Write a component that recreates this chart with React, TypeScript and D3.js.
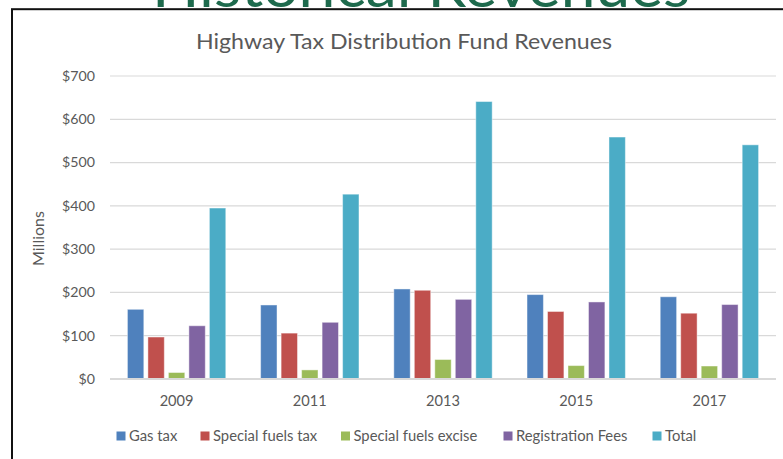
import React from "react";
import * as d3 from "d3";

const years = ["2009", "2011", "2013", "2015", "2017"];
const seriesNames = ["Gas tax", "Special fuels tax", "Special fuels excise", "Registration Fees", "Total"];
const gasTax = [161, 171, 208, 195, 190];
const specialFuelsTax = [97, 106, 205, 156, 152];
const specialFuelsExcise = [15, 21, 45, 31, 30];
const registrationFees = [123, 131, 184, 178, 172];
const total = [395, 427, 641, 559, 541];
const yTicks = [0, 100, 200, 300, 400, 500, 600, 700];

const seriesValues = [gasTax, specialFuelsTax, specialFuelsExcise, registrationFees, total];
const colors = ["#4F81BD", "#C0504D", "#9BBB59", "#8064A2", "#4BACC6"];
const legendX = [116.5, 200.5, 341, 503.5, 652.5];

const FONT = "Lato, 'Open Sans', sans-serif";

export default function App() {
  const W = 783, H = 459;
  const x0 = d3.scaleBand<string>().domain(years).range([110, 776]).padding(0);
  const x1 = d3.scaleBand<string>().domain(seriesNames).range([0, x0.bandwidth()]).paddingInner(0.2).paddingOuter(0.85);
  const y = d3.scaleLinear().domain([0, 700]).range([379, 76]);
  const fmt = (v: number) => "$" + d3.format(",")(v);

  return (
    <svg width={W} height={H} style={{ position: "absolute", left: 0, top: 0, background: "#fff" }} fontFamily={FONT}>
      <rect x={0} y={0} width={W} height={H} fill="#fff" />
      <text x={421} y={7} textAnchor="middle" fontSize={58} fill="#1E6A4D" textLength={538} lengthAdjust="spacingAndGlyphs">Historical Revenues</text>
      <rect x={12} y={9.2} width={900} height={600} fill="#fff" stroke="#111" strokeWidth={2} />
      <text x={404} y={48.5} textAnchor="middle" fontSize={20.5} fill="#595959" textLength={416} lengthAdjust="spacingAndGlyphs">Highway Tax Distribution Fund Revenues</text>
      {yTicks.map((t) => (
        <g key={t}>
          {t !== 0 && <line x1={110} x2={776} y1={y(t)} y2={y(t)} stroke="#D9D9D9" strokeWidth={1.2} />}
          <text x={95} y={y(t) + 4.8} textAnchor="end" fontSize={14.2} fill="#595959">{fmt(t)}</text>
        </g>
      ))}
      <text transform={`translate(43.5,238.5) rotate(-90)`} textAnchor="middle" fontSize={16} fill="#595959">Millions</text>
      {years.map((yr, i) => (
        <g key={yr} transform={`translate(${x0(yr)},0)`}>
          {seriesNames.map((s, j) => {
            const v = seriesValues[j][i];
            return (
              <rect key={s} x={x1(s)} y={y(v)} width={x1.bandwidth()} height={y(0) - y(v)}
                fill={colors[j]} stroke="rgba(255,255,255,0.45)" strokeWidth={1} />
            );
          })}
          <text x={x0.bandwidth() / 2} y={405.5} textAnchor="middle" fontSize={14.6} fill="#595959">{yr}</text>
        </g>
      ))}
      <line x1={110} x2={776} y1={y(0)} y2={y(0)} stroke="#D9D9D9" strokeWidth={2} />
      {seriesNames.map((s, j) => (
        <g key={s} transform={`translate(${legendX[j]},436)`}>
          <rect x={0} y={-4.5} width={9} height={9} fill={colors[j]} />
          <text x={12.5} y={5} fontSize={14.8} fill="#595959">{s}</text>
        </g>
      ))}
    </svg>
  );
}
